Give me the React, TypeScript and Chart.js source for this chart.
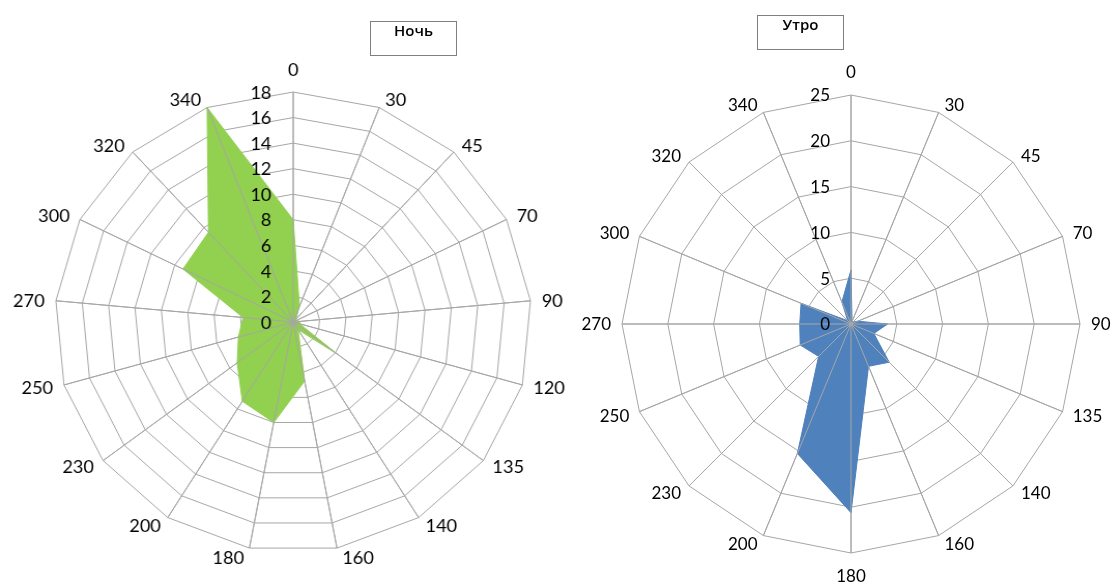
import React, { useEffect, useRef } from 'react';
import { Chart, registerables } from 'chart.js';

Chart.register(...registerables);

// Wind directions (degrees) and observed frequencies
const nightLabels = ['0', '30', '45', '70', '90', '120', '135', '140', '160', '180', '200', '230', '250', '270', '300', '320', '340'];
const nightValues = [8, 1.3, 0.3, 0.3, 0.5, 0.5, 4.2, 0.7, 4.7, 8.0, 7.3, 5.3, 4.3, 3.8, 9.3, 9.5, 18];
const nightMax = 18;
const nightStep = 2;

const morningLabels = ['0', '30', '45', '70', '90', '135', '140', '160', '180', '200', '230', '250', '270', '300', '320', '340'];
const morningValues = [5.9, 0.3, 0.3, 0.8, 4.0, 2.7, 5.9, 5.0, 20.6, 15.3, 5.0, 6.0, 5.6, 5.9, 0.5, 2.6];
const morningMax = 25;
const morningStep = 5;

const FONT = 'Lato, "Open Sans", "DejaVu Sans", sans-serif';
const GRID = '#a6a6a6';

// Draws angle lines above the filled area, plus tick and direction labels
const radarDecor = {
  id: 'radarDecor',
  afterDatasetsDraw(chart: any, _args: any, opts: any) {
    const scale = chart.scales.r;
    const ctx = chart.ctx as CanvasRenderingContext2D;
    const labels: string[] = chart.data.labels;
    const n = labels.length;
    const R = scale.drawingArea;
    ctx.save();
    ctx.strokeStyle = GRID;
    ctx.lineWidth = 1;
    ctx.beginPath();
    for (let i = 0; i < n; i++) {
      const p = scale.getPointPosition(i, R);
      ctx.moveTo(scale.xCenter, scale.yCenter);
      ctx.lineTo(p.x, p.y);
    }
    ctx.stroke();

    ctx.fillStyle = '#000';
    ctx.font = `${opts.fontSize || 18}px ${FONT}`;
    ctx.textAlign = 'right';
    ctx.textBaseline = 'middle';
    scale.ticks.forEach((t: any) => {
      const y = scale.yCenter - scale.getDistanceFromCenterForValue(t.value);
      ctx.fillText(String(t.value), scale.xCenter - 21, y + 1);
    });

    // direction labels: beside the outer vertex, or centred beyond it on the vertical axis
    ctx.textAlign = 'center';
    for (let i = 0; i < n; i++) {
      const th = scale.getIndexAngle(i);
      const s = Math.sin(th);
      const c = Math.cos(th);
      const w = ctx.measureText(labels[i]).width;
      let x: number;
      let y: number;
      if (Math.abs(s) < 0.01) {
        const p = scale.getPointPosition(i, R + 23);
        x = p.x;
        y = p.y;
      } else {
        const q = scale.getPointPosition(i, R);
        x = q.x + Math.sign(s) * (5 + 6 * s * s + w / 2);
        y = q.y - 9 * c;
      }
      ctx.fillText(labels[i], x, y + 1);
    }
    ctx.restore();
  },
};

type RadarProps = {
  labels: string[];
  values: number[];
  max: number;
  step: number;
  color: string;
  left: number;
  width: number;
  cssWidth: number;
  fontSize: number;
  padding: { left: number; right: number; top: number; bottom: number };
};

function Radar({ labels, values, max, step, color, left, width, cssWidth, fontSize, padding }: RadarProps) {
  const ref = useRef<HTMLCanvasElement>(null);
  useEffect(() => {
    if (!ref.current) return;
    const chart = new Chart(ref.current, {
      type: 'radar',
      data: {
        labels,
        datasets: [
          {
            data: values,
            fill: true,
            backgroundColor: color,
            borderColor: color,
            borderWidth: 1,
            pointRadius: 0,
            pointHoverRadius: 0,
          },
        ],
      },
      options: {
        animation: false,
        responsive: false,
        maintainAspectRatio: false,
        devicePixelRatio: 1,
        layout: { padding },
        plugins: {
          legend: { display: false },
          tooltip: { enabled: false },
          title: { display: false },
          radarDecor: { fontSize },
        } as any,
        scales: {
          r: {
            min: 0,
            max,
            beginAtZero: true,
            ticks: { display: false, stepSize: step },
            grid: { color: GRID, lineWidth: 1, circular: false },
            angleLines: { color: GRID, lineWidth: 1 },
            pointLabels: { display: false },
          },
        },
      },
      plugins: [radarDecor],
    });
    // keep the wider display size for the night chart
    ref.current.style.width = `${cssWidth}px`;
    ref.current.style.height = '583px';
    return () => chart.destroy();
  }, []);
  return (
    <canvas
      ref={ref}
      width={width}
      height={583}
      style={{ position: 'absolute', left, top: 0, width: cssWidth, height: 583 }}
    />
  );
}

const legendStyle: React.CSSProperties = {
  position: 'absolute',
  boxSizing: 'border-box',
  border: '1px solid #7f7f7f',
  background: '#fff',
  textAlign: 'center',
  fontFamily: '"Open Sans", sans-serif',
  fontWeight: 600,
  fontSize: 15,
  lineHeight: '17px',
  paddingTop: 0,
  color: '#000',
};

export default function App() {
  return (
    <div style={{ position: 'fixed', left: 0, top: 0, width: 1112, height: 583, background: '#fff', overflow: 'hidden' }}>
      <Radar
        labels={nightLabels}
        values={nightValues}
        max={nightMax}
        step={nightStep}
        color="#92d050"
        left={0}
        width={556}
        cssWidth={575.5}
        fontSize={17.5}
        padding={{ left: 53, right: 43, top: 92, bottom: 31 }}
      />
      <Radar
        labels={morningLabels}
        values={morningValues}
        max={morningMax}
        step={morningStep}
        color="#4f81bd"
        left={556}
        width={556}
        cssWidth={556}
        fontSize={17}
        padding={{ left: 66, right: 32, top: 95, bottom: 30 }}
      />
      <div style={{ ...legendStyle, left: 370, top: 21, width: 87, height: 35 }}>Ночь</div>
      <div style={{ ...legendStyle, left: 757, top: 15, width: 87, height: 35 }}>Утро</div>
    </div>
  );
}
